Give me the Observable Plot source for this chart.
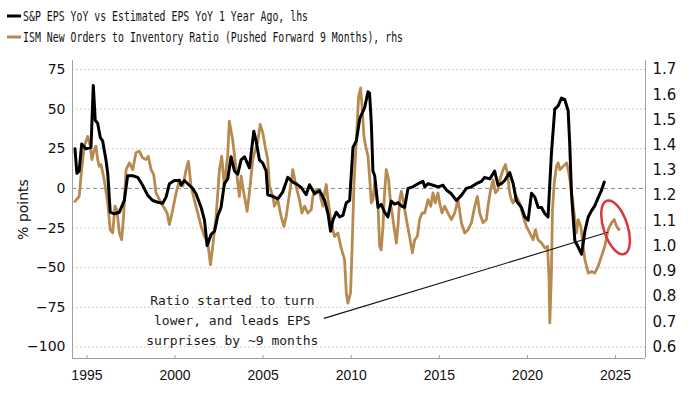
<!DOCTYPE html>
<html><head><meta charset="utf-8">
<script src="https://cdn.jsdelivr.net/npm/d3@7"></script>
<script src="https://cdn.jsdelivr.net/npm/@observablehq/plot@0.6"></script>
<style>
body{margin:0;background:#fff;width:700px;height:394px;overflow:hidden}
svg{display:block}
</style></head><body>
<svg id="legend" width="700" height="50"></svg>
<div id="chart"></div>
<script>
// ---- Data ----
const epsYears = [1994.32,1994.43,1994.56,1994.70,1994.94,1995.23,1995.36,1995.47,1995.61,1995.76,1995.89,1996.08,1996.18,1996.32,1996.55,1996.84,1997.12,1997.31,1997.60,1997.88,1998.16,1998.45,1998.73,1999.02,1999.30,1999.49,1999.68,1999.96,2000.25,2000.34,2000.53,2000.81,2001.00,2001.19,2001.48,2001.67,2001.82,2002.05,2002.24,2002.43,2002.61,2002.80,2002.99,2003.18,2003.37,2003.56,2003.75,2003.94,2004.22,2004.47,2004.60,2004.79,2004.98,2005.17,2005.26,2005.55,2005.83,2006.11,2006.40,2006.68,2006.87,2007.16,2007.44,2007.63,2007.92,2008.20,2008.49,2008.68,2008.83,2008.96,2009.15,2009.34,2009.53,2009.72,2009.91,2010.10,2010.29,2010.48,2010.76,2010.95,2011.04,2011.14,2011.23,2011.33,2011.52,2011.70,2011.89,2012.08,2012.27,2012.46,2012.65,2012.84,2013.03,2013.22,2013.50,2013.79,2014.07,2014.17,2014.36,2014.64,2014.93,2015.21,2015.40,2015.68,2015.97,2016.25,2016.53,2016.82,2017.10,2017.39,2017.57,2017.86,2018.14,2018.33,2018.52,2018.71,2018.99,2019.19,2019.38,2019.66,2019.85,2020.04,2020.23,2020.42,2020.61,2020.80,2020.99,2021.17,2021.36,2021.55,2021.74,2021.93,2022.12,2022.31,2022.40,2022.50,2022.69,2022.88,2023.07,2023.26,2023.45,2023.64,2023.82,2024.01,2024.20,2024.36];
const epsValues = [25,9.5,11,28,25,26,65,43,41,32,30,18,9.5,-15,-16,-15,-7.6,8,8,7,2,-4.4,-7.6,-8.7,-9.3,-5.5,3,5,5,2,5,2,0,-3.4,-12,-20,-36,-29,-27,-17,-12,3,6,20,11,9,18,20,13,36,30,18,16,11,-4,-5,-6.6,-2.3,7,4,3,0.6,-4,2.3,-3.4,-1.3,-7.6,-16,-27,-20,-15,-18,-17,-9,-7.6,26,30,44,51,61,60,41,11,8,-12,-10,-15,-18,-8,-10,-9,-11,-12,0,1,3,4.5,1,3,2,1,2,-1,-3.4,-7.6,-4.4,0,1,3,4.5,7,6,11,2,3,5,10,3,-8,-12,-18,-20,-3,-5.5,-12,-12,-16,-18,22,50,52,57,56,49,28,-3.4,-33,-37,-41.5,-27,-18,-14,-11,-6,-1.3,4];

const ismYears = [1994.32,1994.56,1994.70,1994.85,1995.04,1995.19,1995.28,1995.42,1995.51,1995.61,1995.70,1995.80,1995.98,1996.18,1996.32,1996.46,1996.59,1996.70,1996.84,1996.97,1997.08,1997.22,1997.41,1997.60,1997.78,1997.97,1998.16,1998.35,1998.48,1998.64,1998.79,1998.92,1999.20,1999.39,1999.55,1999.68,1999.87,2000.06,2000.25,2000.44,2000.63,2000.76,2000.91,2001.09,2001.29,2001.48,2001.67,2001.86,2002.01,2002.14,2002.33,2002.52,2002.65,2002.80,2002.99,2003.08,2003.27,2003.47,2003.65,2003.75,2003.90,2004.09,2004.22,2004.41,2004.51,2004.70,2004.83,2004.98,2005.11,2005.26,2005.36,2005.55,2005.64,2005.83,2006.02,2006.18,2006.31,2006.50,2006.68,2006.87,2007.06,2007.20,2007.35,2007.54,2007.73,2007.82,2008.01,2008.20,2008.39,2008.49,2008.58,2008.68,2008.86,2009.05,2009.24,2009.43,2009.62,2009.72,2009.81,2009.96,2010.04,2010.15,2010.28,2010.42,2010.53,2010.63,2010.72,2010.82,2010.95,2011.04,2011.14,2011.23,2011.33,2011.52,2011.61,2011.70,2011.80,2011.89,2011.99,2012.12,2012.23,2012.37,2012.56,2012.65,2012.75,2012.84,2012.94,2013.13,2013.31,2013.47,2013.60,2013.75,2013.88,2014.02,2014.17,2014.36,2014.51,2014.64,2014.77,2014.92,2015.02,2015.15,2015.30,2015.49,2015.68,2015.87,2016.06,2016.25,2016.44,2016.63,2016.82,2017.01,2017.16,2017.29,2017.48,2017.67,2017.76,2017.91,2018.05,2018.18,2018.33,2018.43,2018.62,2018.75,2018.86,2018.99,2019.09,2019.18,2019.37,2019.56,2019.76,2019.94,2020.13,2020.32,2020.45,2020.60,2020.80,2020.99,2021.14,2021.22,2021.27,2021.36,2021.42,2021.52,2021.65,2021.74,2021.84,2022.03,2022.22,2022.35,2022.46,2022.60,2022.78,2022.88,2023.03,2023.16,2023.26,2023.45,2023.64,2023.82,2024.01,2024.20,2024.39,2024.58,2024.77,2024.92,2025.06,2025.19];
const ismValues = [1.177,1.197,1.303,1.396,1.435,1.396,1.343,1.383,1.396,1.343,1.316,1.323,1.263,1.171,1.065,1.052,1.158,1.144,1.052,1.025,1.118,1.303,1.33,1.303,1.37,1.376,1.35,1.343,1.356,1.303,1.283,1.211,1.171,1.151,1.131,1.085,1.144,1.211,1.263,1.237,1.303,1.336,1.237,1.184,1.131,1.078,1.038,1.012,0.926,0.999,1.118,1.303,1.356,1.237,1.363,1.495,1.422,1.303,1.197,1.277,1.211,1.138,1.211,1.343,1.37,1.416,1.482,1.449,1.396,1.343,1.237,1.197,1.158,1.184,1.118,1.078,1.118,1.211,1.303,1.237,1.184,1.131,1.158,1.131,1.144,1.197,1.224,1.211,1.158,1.211,1.244,1.184,1.092,1.038,1.052,0.992,0.946,0.814,0.774,0.814,0.973,1.237,1.409,1.594,1.627,1.541,1.435,1.396,1.356,1.277,1.171,1.184,1.25,1.158,1.0,0.985,1.078,1.211,1.303,1.263,1.171,1.105,1.012,1.078,1.184,1.217,1.184,1.105,1.038,0.973,1.025,1.038,1.105,1.131,1.131,1.184,1.158,1.211,1.171,1.211,1.171,1.131,1.158,1.131,1.105,1.131,1.184,1.092,1.052,1.065,1.092,1.158,1.197,1.131,1.092,1.105,1.158,1.224,1.263,1.211,1.224,1.263,1.303,1.323,1.29,1.211,1.184,1.171,1.197,1.171,1.118,1.078,1.052,1.025,1.065,1.025,1.012,0.992,0.999,0.88,0.695,0.893,1.144,1.25,1.316,1.33,1.303,1.316,1.33,1.29,1.237,1.158,1.052,1.105,1.078,0.999,0.946,0.893,0.899,0.893,0.919,0.959,0.999,1.065,1.092,1.105,1.078,1.065];

const leftTicks = [-100, -75, -50, -25, 0, 25, 50, 75];
const rightTicks = [0.6, 0.7, 0.8, 0.9, 1.0, 1.1, 1.2, 1.3, 1.4, 1.5, 1.6, 1.7];
const xTicks = [1995, 2000, 2005, 2010, 2015, 2020, 2025];
const legendLabels = ["S&P EPS YoY vs Estimated EPS YoY 1 Year Ago, lhs", "ISM New Orders to Inventory Ratio (Pushed Forward 9 Months), rhs"];
const seriesColors = ["#000000", "#b88a4f"];
const noteLines = ["Ratio started to turn", "lower, and leads EPS", "surprises by ~9 months"];
const notePos = [2003.25, -82];
const pointerFrom = [2008.45, -82];
const pointerTo = [2024.56, -27.7];
const highlightCenter = [2025.03, -24.9];

// ---- Scales ----
const xDomain = [1994.18, 2026.70];
const yDomain = [-107.3, 80.7];
const toLeft = r => -100 + (r - 0.6) * 175 / 1.1;
const toRight = l => 0.6 + (l + 100) * 1.1 / 175;

const eps = epsYears.map((x, i) => ({x, y: epsValues[i]}));
const ism = ismYears.map((x, i) => ({x, y: toLeft(ismValues[i])}));

// ---- Legend ----
const leg = d3.select("#legend");
const legendWidths = [285, 380];
legendLabels.forEach((t, i) => {
  const cy = 16 + i * 21;
  leg.append("line").attr("x1", 7).attr("x2", 21).attr("y1", cy).attr("y2", cy)
    .attr("stroke", seriesColors[i]).attr("stroke-width", 3);
  leg.append("text").attr("x", 23).attr("y", cy + 5)
    .attr("font-family", "DejaVu Sans Mono").attr("font-size", 14).attr("fill", "#111")
    .attr("textLength", legendWidths[i]).attr("lengthAdjust", "spacingAndGlyphs")
    .text(t);
});

// ---- Chart ----
const chart = Plot.plot({
  width: 700, height: 344,
  marginTop: 10, marginBottom: 36, marginLeft: 72, marginRight: 55,
  x: {type: "linear", domain: xDomain},
  y: {type: "linear", domain: yDomain},
  style: {fontFamily: "DejaVu Sans", background: "#fff", color: "#111"},
  marks: [
    Plot.ruleY(leftTicks.filter(d => d !== 0), {stroke: "#bdbdbd", strokeDasharray: "1.5,2.5", strokeWidth: 1}),
    Plot.ruleY([0], {stroke: "#888", strokeDasharray: "4,3", strokeWidth: 1}),
    Plot.ruleX([xDomain[0], xDomain[1]], {stroke: "#a0a0a0", strokeWidth: 1}),
    Plot.ruleY([yDomain[0]], {stroke: "#a0a0a0", strokeWidth: 1}),
    Plot.line(ism, {x: "x", y: "y", stroke: seriesColors[1], strokeWidth: 2.8, curve: "linear"}),
    Plot.line(eps, {x: "x", y: "y", stroke: seriesColors[0], strokeWidth: 3, curve: "linear"}),
    Plot.link([{x1: pointerFrom[0], y1: pointerFrom[1], x2: pointerTo[0], y2: pointerTo[1]}],
      {x1: "x1", y1: "y1", x2: "x2", y2: "y2", stroke: "#111", strokeWidth: 1.1}),
    Plot.text([{x: notePos[0], y: notePos[1], t: noteLines.join("\n")}],
      {x: "x", y: "y", text: "t", fontFamily: "DejaVu Sans Mono", fontSize: 13, lineHeight: 1.55, fill: "#1a1a1a", textAnchor: "middle"}),
    Plot.axisY(leftTicks, {anchor: "left", tickSize: 0, tickPadding: 7, fontSize: 14,
      label: "% points", labelAnchor: "center", labelOffset: 54, labelArrow: "none"}),
    Plot.axisY(rightTicks.map(toLeft), {anchor: "right", tickSize: 0, tickPadding: 7, fontSize: 15,
      tickFormat: d => toRight(d).toFixed(1), label: null}),
    Plot.axisX(xTicks, {anchor: "bottom", tickSize: 0, tickPadding: 12, fontSize: 14,
      fontFamily: "Liberation Sans", tickFormat: d => String(d), label: null}),
    Plot.axisX(xTicks, {anchor: "bottom", tickSize: -3, stroke: "#a0a0a0", tickFormat: () => "", label: null})
  ]
});
document.getElementById("chart").appendChild(chart);

// ---- Highlight ellipse (positioned through the chart's scales) ----
const sx = chart.scale("x"), sy = chart.scale("y");
const cx = sx.apply(highlightCenter[0]), cy = sy.apply(highlightCenter[1]);
d3.select(chart).append("ellipse")
  .attr("cx", cx).attr("cy", cy).attr("rx", 12).attr("ry", 28)
  .attr("transform", `rotate(-18 ${cx} ${cy})`)
  .attr("fill", "none").attr("stroke", "#d8383d").attr("stroke-width", 2.5);
</script>
</body></html>
